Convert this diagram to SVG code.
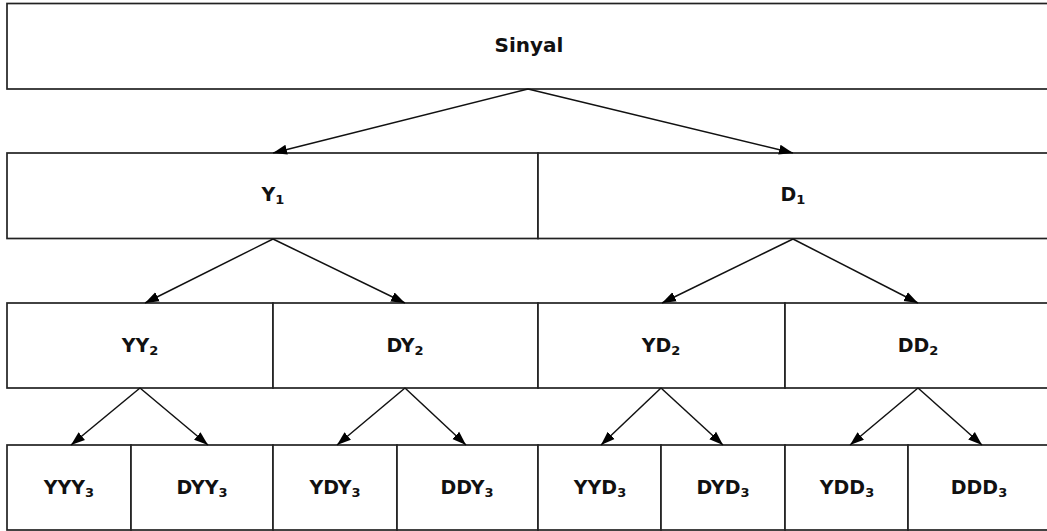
<svg xmlns="http://www.w3.org/2000/svg" width="1047" height="531" viewBox="0 0 1047 531">
<style>
.box{fill:#fff;stroke:#222;stroke-width:1.7}
.lbl{font-family:"DejaVu Sans",sans-serif;font-weight:bold;font-size:19px;fill:#111;text-anchor:middle}
.big{font-size:20px}
.sub{font-size:13px}
.edge{stroke:#111;stroke-width:1.5;fill:none;marker-end:url(#ah)}
</style>
<defs>
<marker id="ah" markerUnits="userSpaceOnUse" markerWidth="16" markerHeight="12" refX="14" refY="5" orient="auto" viewBox="0 0 16 10">
<path d="M0,0 L14,5 L0,10 Z" fill="#000"/>
</marker>
</defs>
<rect width="1047" height="531" fill="#fff"/>
<g id="n-sinyal"><rect class="box" x="7" y="3.5" width="1043" height="85.5"/><text class="lbl big" x="529" y="52">Sinyal</text></g>
<g id="n-y1"><rect class="box" x="7" y="153" width="531" height="85.5"/><text class="lbl" x="273" y="201">Y<tspan class="sub" dy="3">1</tspan></text></g>
<g id="n-d1"><rect class="box" x="538" y="153" width="512" height="85.5"/><text class="lbl" x="793" y="201">D<tspan class="sub" dy="3">1</tspan></text></g>
<g id="n-yy2"><rect class="box" x="7" y="303" width="266" height="85"/><text class="lbl" x="140" y="352">YY<tspan class="sub" dy="3">2</tspan></text></g>
<g id="n-dy2"><rect class="box" x="273" y="303" width="265" height="85"/><text class="lbl" x="405" y="352">DY<tspan class="sub" dy="3">2</tspan></text></g>
<g id="n-yd2"><rect class="box" x="538" y="303" width="247" height="85"/><text class="lbl" x="661" y="352">YD<tspan class="sub" dy="3">2</tspan></text></g>
<g id="n-dd2"><rect class="box" x="785" y="303" width="265" height="85"/><text class="lbl" x="918" y="352">DD<tspan class="sub" dy="3">2</tspan></text></g>
<g id="n-yyy3"><rect class="box" x="7" y="445" width="124" height="85"/><text class="lbl" x="69" y="494">YYY<tspan class="sub" dy="3">3</tspan></text></g>
<g id="n-dyy3"><rect class="box" x="131" y="445" width="142" height="85"/><text class="lbl" x="202" y="494">DYY<tspan class="sub" dy="3">3</tspan></text></g>
<g id="n-ydy3"><rect class="box" x="273" y="445" width="124" height="85"/><text class="lbl" x="335" y="494">YDY<tspan class="sub" dy="3">3</tspan></text></g>
<g id="n-ddy3"><rect class="box" x="397" y="445" width="141" height="85"/><text class="lbl" x="467" y="494">DDY<tspan class="sub" dy="3">3</tspan></text></g>
<g id="n-yyd3"><rect class="box" x="538" y="445" width="123" height="85"/><text class="lbl" x="600" y="494">YYD<tspan class="sub" dy="3">3</tspan></text></g>
<g id="n-dyd3"><rect class="box" x="661" y="445" width="124" height="85"/><text class="lbl" x="723" y="494">DYD<tspan class="sub" dy="3">3</tspan></text></g>
<g id="n-ydd3"><rect class="box" x="785" y="445" width="123" height="85"/><text class="lbl" x="847" y="494">YDD<tspan class="sub" dy="3">3</tspan></text></g>
<g id="n-ddd3"><rect class="box" x="908" y="445" width="142" height="85"/><text class="lbl" x="979" y="494">DDD<tspan class="sub" dy="3">3</tspan></text></g>
<g id="connectors">
<line class="edge" x1="528" y1="89" x2="273" y2="153"/>
<line class="edge" x1="528" y1="89" x2="793" y2="153"/>
<line class="edge" x1="273" y1="239" x2="145" y2="303"/>
<line class="edge" x1="273" y1="239" x2="405" y2="303"/>
<line class="edge" x1="793" y1="239" x2="662" y2="303"/>
<line class="edge" x1="793" y1="239" x2="918" y2="303"/>
<line class="edge" x1="140" y1="388" x2="71" y2="445"/>
<line class="edge" x1="140" y1="388" x2="208" y2="445"/>
<line class="edge" x1="405" y1="388" x2="337" y2="445"/>
<line class="edge" x1="405" y1="388" x2="466" y2="445"/>
<line class="edge" x1="661" y1="388" x2="601" y2="445"/>
<line class="edge" x1="661" y1="388" x2="723" y2="445"/>
<line class="edge" x1="918" y1="388" x2="850" y2="445"/>
<line class="edge" x1="918" y1="388" x2="982" y2="445"/>
</g>
</svg>
